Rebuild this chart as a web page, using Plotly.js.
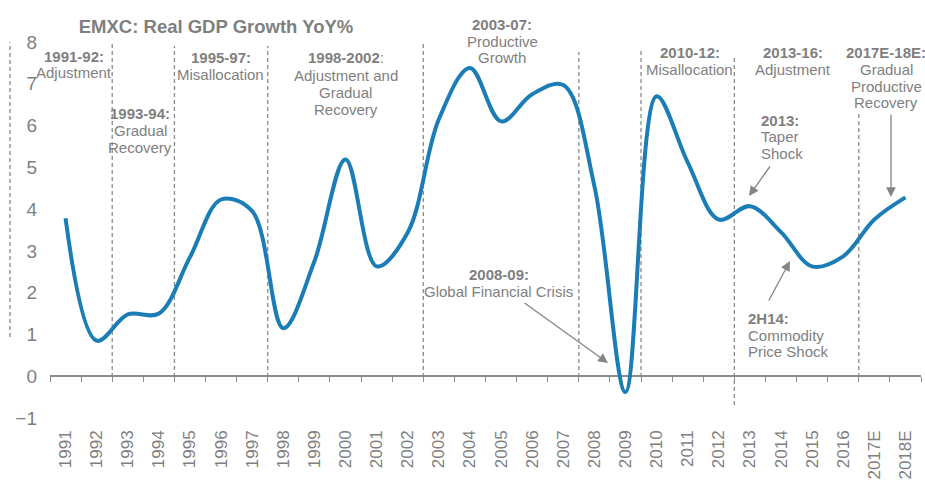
<!DOCTYPE html>
<html>
<head>
<meta charset="utf-8">
<script src="https://cdn.plot.ly/plotly-3.0.1.min.js"></script>
<style>html,body{margin:0;padding:0;background:#fff}#chart{width:925px;height:480px}</style>
</head>
<body>
<div id="chart"></div>
<script>
// ---- data ----
const years = ['1991','1992','1993','1994','1995','1996','1997','1998','1999','2000',
  '2001','2002','2003','2004','2005','2006','2007','2008','2009','2010',
  '2011','2012','2013','2014','2015','2016','2017E','2018E'];
const gdpGrowth = [3.78,0.85,1.48,1.5,2.85,4.23,3.95,1.15,2.75,5.19,
  2.63,3.44,6.15,7.38,6.1,6.75,6.97,4.55,-0.38,6.7,
  5.12,3.75,4.07,3.45,2.63,2.87,3.75,4.28];
const yTicks = [-1,0,1,2,3,4,5,6,7,8];
const chartTitle = 'EMXC: Real GDP Growth YoY%';

const periodHeads = ['1991-92:','1993-94:','1995-97:','1998-2002:','2003-07:','2008-09:','2010-12:','2013-16:','2017E-18E:','2013:','2H14:'];
const periodBodies = [
  ['Adjustment'],
  ['Gradual','Recovery'],
  ['Misallocation'],
  ['Adjustment and','Gradual','Recovery'],
  ['Productive','Growth'],
  ['Global Financial Crisis'],
  ['Misallocation'],
  ['Adjustment'],
  ['Gradual','Productive','Recovery'],
  ['Taper','Shock'],
  ['Commodity','Price Shock']
];

// ---- layout helpers ----
const FONT = 'Liberation Sans, Arial, sans-serif';
const GRAY = '#7f7f7f';
const L = 50, T = 42, W = 871, H = 376;
const Y0 = yTicks[0], Y1 = yTicks[yTicks.length-1];
const N = years.length;
const xi = px => (px - L) / W * N - 0.5;            // pixel -> category index
const yv = py => Y1 - (py - T) * (Y1 - Y0) / H;     // pixel -> data value
const xp = px => (px - L) / W;                       // pixel -> paper x
const yp = py => (T + H - py) / H;                   // pixel -> paper y

// text block placements: [center/left x px, first line y px, anchor, line gap]
const blockPos = [
  [74, 56, 'center', 16],
  [140, 113, 'center', 17],
  [220.5, 58, 'center', 16.5],
  [345.5, 58, 'center', 17],
  [502, 25, 'center', 16.5],
  [498.5, 274, 'center', 17],
  [689.5, 52.5, 'center', 16.5],
  [792.5, 52.5, 'center', 16.5],
  [886, 52.5, 'center', 16.8],
  [759, 120, 'left', 16.5],
  [746, 318.5, 'left', 16.5]
];

const annotations = [];
periodHeads.forEach((head, i) => {
  const [px, py, anchor, gap] = blockPos[i];
  const headText = head === '1998-2002:' ? '<b>1998-2002</b>:' : '<b>' + head + '</b>';
  const lines = [headText].concat(periodBodies[i]);
  lines.forEach((t, j) => {
    annotations.push({
      xref: 'paper', yref: 'paper', x: xp(px), y: yp(py + j * gap),
      xanchor: anchor, yanchor: 'middle', showarrow: false, text: t,
      font: {family: FONT, size: 15, color: GRAY}
    });
  });
});

// arrows: [tail px, tail py, tip px, tip py]
const arrows = [
  [523, 302, 608, 363],
  [771, 165, 749, 196],
  [768, 302, 790, 261],
  [891, 113, 891, 197]
];
arrows.forEach(a => {
  annotations.push({
    xref: 'x', yref: 'y', axref: 'x', ayref: 'y',
    x: xi(a[2]), y: yv(a[3]), ax: xi(a[0]), ay: yv(a[1]),
    text: '', showarrow: true, arrowhead: 2, arrowsize: 1.5, arrowwidth: 1.3,
    arrowcolor: '#858585'
  });
});

// dashed period separators: [boundary index, top px, bottom px]
const dashLine = {color: '#8a8a8a', width: 1.3, dash: '4px,3px'};
const seps = [
  [1.5, 42, 377], [3.5, 46, 377], [6.5, 46, 377], [11.5, 43, 377],
  [16.5, 52, 377], [18.5, 50, 377], [21.5, 55, 405], [25.5, 112, 377]
];
const shapes = seps.map(s => ({
  type: 'line', xref: 'x', yref: 'y', x0: s[0], x1: s[0], y0: yv(s[2]), y1: yv(s[1]),
  line: dashLine, layer: 'below'
}));
shapes.push({
  type: 'line', xref: 'paper', yref: 'y', x0: xp(10), x1: xp(10), y0: yv(337), y1: yv(10),
  line: dashLine, layer: 'below'
});

const traces = [
  {
    x: years, y: gdpGrowth, type: 'scatter', mode: 'lines',
    line: {color: '#1a7db6', width: 4, shape: 'spline', smoothing: 1},
    hoverinfo: 'x+y', showlegend: false
  },
  {
    x: years, y: gdpGrowth, type: 'scatter', mode: 'lines', xaxis: 'x2',
    line: {color: 'rgba(0,0,0,0)', width: 0}, hoverinfo: 'skip', showlegend: false
  }
];

const layout = {
  width: 925, height: 480,
  margin: {l: L, r: 925 - L - W, t: T, b: 480 - T - H, pad: 0},
  paper_bgcolor: '#fff', plot_bgcolor: '#fff',
  showlegend: false,
  title: {
    text: '<b>' + chartTitle + '</b>',
    font: {family: FONT, size: 18.5, color: GRAY},
    xref: 'paper', x: xp(216), xanchor: 'center',
    yref: 'container', y: 1 - 27 / 480, yanchor: 'middle'
  },
  xaxis: {
    type: 'category', categoryorder: 'array', categoryarray: years,
    range: [-0.5, N - 0.5], showline: false, showgrid: false, zeroline: false,
    ticks: '', tickangle: -90, ticklabelstandoff: 8,
    tickfont: {family: FONT, size: 17, color: GRAY}, fixedrange: true
  },
  xaxis2: {
    type: 'category', categoryorder: 'array', categoryarray: years,
    overlaying: 'x', anchor: 'free', position: (0 - Y0) / (Y1 - Y0),
    range: [-0.5, N - 0.5], showline: true, linecolor: '#8c8c8c', linewidth: 1.5,
    ticks: 'outside', ticklen: 5, tickwidth: 1.2, tickcolor: '#8c8c8c',
    tickson: 'boundaries', showticklabels: false, showgrid: false, zeroline: false,
    layer: 'below traces', fixedrange: true
  },
  yaxis: {
    range: [Y0, Y1], tickvals: yTicks, showgrid: false, zeroline: false, showline: false,
    ticks: '', ticklabelstandoff: 12,
    tickfont: {family: FONT, size: 19, color: GRAY}, fixedrange: true
  },
  annotations: annotations,
  shapes: shapes
};

Plotly.newPlot('chart', traces, layout, {displayModeBar: false, staticPlot: false});
</script>
</body>
</html>
